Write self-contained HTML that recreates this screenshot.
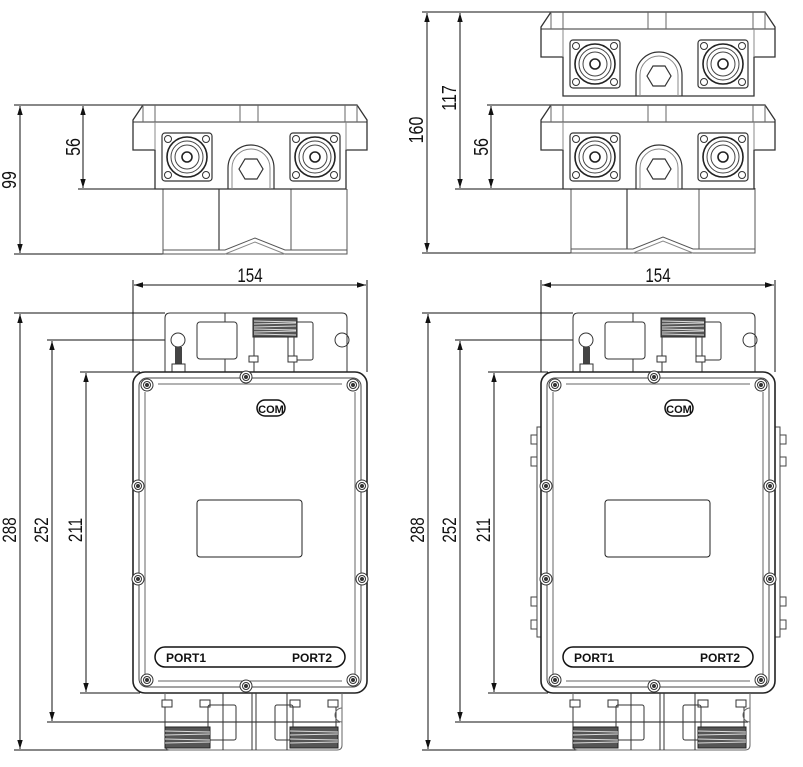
<!DOCTYPE html>
<html><head><meta charset="utf-8"><style>
html,body{margin:0;padding:0;background:#fff;}
svg{display:block;}
text{font-family:"Liberation Sans",sans-serif;fill:#111;}
</style></head><body>
<svg width="803" height="767" viewBox="0 0 803 767" xmlns="http://www.w3.org/2000/svg">
<defs>
<marker id="a" viewBox="0 0 10 10" refX="10" refY="5" markerWidth="9" markerHeight="9" orient="auto-start-reverse" markerUnits="userSpaceOnUse"><path d="M0,2 L10,5 L0,8 Z" fill="#111"/></marker>
<g id="conn">
  <rect x="-25" y="-24" width="50" height="48" rx="3" fill="none" stroke="#333" stroke-width="1.2"/>
  <circle r="20" fill="none" stroke="#222" stroke-width="1.6"/>
  <circle r="16" fill="none" stroke="#444"/>
  <circle r="12" fill="none" stroke="#444"/>
  <circle r="5" fill="none" stroke="#222" stroke-width="1.6"/>
  <circle cx="-19" cy="-18" r="3.5" fill="none" stroke="#333"/><circle cx="19" cy="-18" r="3.5" fill="none" stroke="#333"/>
  <circle cx="-19" cy="18" r="3.5" fill="none" stroke="#333"/><circle cx="19" cy="18" r="3.5" fill="none" stroke="#333"/>
</g>
<g id="unit" fill="none" stroke="#333" stroke-width="1">
  <path d="M143,105 L357,105 L367,120 L367,150 L346,150 L346,189 L155,189 L155,150 L133,150 L133,120 Z" fill="#fff" stroke-width="1.3"/>
  <line x1="133" y1="122" x2="367" y2="122"/>
  <line x1="155" y1="150" x2="155" y2="122" stroke="#888"/><line x1="346" y1="150" x2="346" y2="122" stroke="#888"/>
  <path d="M143,105 L143,122 M155,105 L155,122 M240,105 L240,122 M258,105 L258,122 M345,105 L345,122 M357,105 L357,122" stroke="#666"/>
  <use href="#conn" x="187" y="157"/>
  <use href="#conn" x="315" y="157"/>
  <path d="M228,189 L228,168 A23,23 0 0 1 274,168 L274,189" stroke-width="1.2"/>
  <path d="M232,189 L232,168 A19,19 0 0 1 270,168 L270,189" stroke="#888"/>
  <polygon points="239,169 245,159 257,159 263,169 257,179 245,179" stroke-width="1.2"/>
</g>
<g id="brk" fill="none" stroke="#555" stroke-width="1">
  <path d="M163,189 L163,254 L347,254 L347,189"/>
  <line x1="219" y1="189" x2="219" y2="250" stroke="#111"/>
  <line x1="291" y1="189" x2="291" y2="250"/>
  <path d="M163,250 L225,250 L255,238 L285,250 L347,250"/>
  <path d="M225,254 L255,242 L285,254" stroke="#888"/>
</g>
<g id="screw"><circle r="6" fill="#fff" stroke="#333"/><circle r="3.5" fill="none" stroke="#333"/><circle r="1.5" fill="#333"/></g>
<g id="front" fill="none" stroke="#333" stroke-width="1">
  <path d="M165,372 L165,318 Q165,313 170,313 L342,313 Q347,313 347,318 L347,372" fill="#fff"/>
  <circle cx="178" cy="340" r="7"/><circle cx="342" cy="340" r="7"/>
  <rect x="197" y="322" width="40" height="37" rx="3"/>
  <rect x="288" y="322" width="25" height="38" rx="2"/>
  <line x1="225" y1="313" x2="225" y2="322"/><line x1="225" y1="359" x2="225" y2="372"/>
  <rect x="253" y="318" width="44" height="19" fill="#555" stroke="#222"/>
  <path d="M254,321 L296,322 M254,324 L296,323 M254,327 L296,326 M254,329 L296,330 M254,332 L296,331 M254,334 L296,335" stroke="#ddd"/>
  <line x1="254" y1="337" x2="254" y2="372"/><line x1="294" y1="337" x2="294" y2="372"/>
  <rect x="249" y="356" width="9" height="6" fill="#fff"/><rect x="288" y="356" width="9" height="6" fill="#fff"/>
  <rect x="175" y="347" width="7" height="19" fill="#444" stroke="none"/>
  <rect x="172" y="364" width="13" height="8" fill="#fff"/>
  <rect x="133" y="372" width="234" height="321" rx="12" fill="#fff" stroke="#222" stroke-width="1.6"/>
  <rect x="139" y="378" width="222" height="309" rx="8" stroke="#444"/>
  <line x1="145" y1="392" x2="145" y2="675" stroke="#666"/><line x1="355" y1="392" x2="355" y2="675" stroke="#666"/>
  <line x1="158" y1="384" x2="342" y2="384" stroke="#666"/><line x1="158" y1="681" x2="342" y2="681" stroke="#666"/>
  <rect x="257" y="400" width="28" height="16" rx="8" stroke="#111" stroke-width="1.5"/>
  <rect x="197" y="500" width="105" height="57" rx="3" stroke="#222"/>
  <rect x="155" y="647" width="190" height="20" rx="10" stroke="#111" stroke-width="1.5"/>
  <use href="#screw" x="147" y="385"/><use href="#screw" x="353" y="385"/>
  <use href="#screw" x="147" y="680"/><use href="#screw" x="353" y="680"/>
  <use href="#screw" x="138" y="486"/><use href="#screw" x="362" y="486"/>
  <use href="#screw" x="138" y="579"/><use href="#screw" x="362" y="579"/>
  <use href="#screw" x="246" y="377"/><use href="#screw" x="246" y="686"/>
  <path d="M165,693 L165,745 Q165,750 170,750 L337,750 Q342,750 342,745 L342,693" stroke="#666"/>
  <rect x="162" y="700" width="10" height="7" fill="#fff"/><rect x="200" y="700" width="10" height="7" fill="#fff"/>
  <rect x="290" y="700" width="10" height="7" fill="#fff"/><rect x="328" y="700" width="10" height="7" fill="#fff"/>
  <line x1="165" y1="707" x2="165" y2="727"/><line x1="208" y1="707" x2="208" y2="727"/>
  <line x1="293" y1="707" x2="293" y2="727"/><line x1="336" y1="707" x2="336" y2="727"/>
  <rect x="208" y="705" width="28" height="35" rx="2"/>
  <rect x="275" y="705" width="18" height="35" rx="2"/>
  <line x1="223" y1="693" x2="223" y2="750"/><line x1="252" y1="693" x2="252" y2="750"/><line x1="256" y1="693" x2="256" y2="750"/><line x1="287" y1="693" x2="287" y2="750"/>
  <rect x="165" y="727" width="45" height="21" fill="#555" stroke="#222"/>
  <rect x="290" y="727" width="48" height="21" fill="#555" stroke="#222"/>
  <path d="M165,731 L210,732 M165,735 L210,734 M165,739 L210,740 M165,743 L210,742 M290,731 L338,732 M290,735 L338,734 M290,739 L338,740 M290,743 L338,742" stroke="#ddd"/>
  <path d="M342,708 A7,7 0 0 0 342,722" stroke="#666"/>
</g>
</defs>

<g stroke="#111" stroke-width="1" fill="none">
  <line x1="14" y1="105" x2="143" y2="105"/><line x1="14" y1="254" x2="163" y2="254"/>
  <line x1="78" y1="189" x2="155" y2="189"/>
  <line x1="20" y1="106" x2="20" y2="253" marker-start="url(#a)" marker-end="url(#a)"/>
  <line x1="83" y1="106" x2="83" y2="188" marker-start="url(#a)" marker-end="url(#a)"/>
  <line x1="422" y1="12" x2="551" y2="12"/><line x1="422" y1="253" x2="571" y2="253"/>
  <line x1="455" y1="189" x2="563" y2="189"/><line x1="487" y1="105" x2="563" y2="105"/>
  <line x1="427" y1="13" x2="427" y2="252" marker-start="url(#a)" marker-end="url(#a)"/>
  <line x1="460" y1="13" x2="460" y2="188" marker-start="url(#a)" marker-end="url(#a)"/>
  <line x1="491" y1="106" x2="491" y2="188" marker-start="url(#a)" marker-end="url(#a)"/>
</g>
<use href="#brk"/>
<use href="#unit"/>
<use href="#brk" x="408" y="-1"/>
<use href="#unit" x="408" y="-93"/>
<use href="#unit" x="408" y="0"/>
<g font-size="20" text-anchor="middle">
<text transform="translate(16,180) rotate(-90) scale(0.8,1)">99</text>
<text transform="translate(80,147) rotate(-90) scale(0.8,1)">56</text>
<text transform="translate(423,130) rotate(-90) scale(0.8,1)">160</text>
<text transform="translate(456,98) rotate(-90) scale(0.8,1)">117</text>
<text transform="translate(488,147) rotate(-90) scale(0.8,1)">56</text>
</g>

<g id="fdims" stroke="#111" stroke-width="1" fill="none">
  <line x1="133" y1="280" x2="133" y2="372"/><line x1="367" y1="280" x2="367" y2="372"/>
  <line x1="134" y1="285" x2="366" y2="285" marker-start="url(#a)" marker-end="url(#a)"/>
  <line x1="14" y1="313" x2="165" y2="313"/><line x1="47" y1="340" x2="172" y2="340"/>
  <line x1="80" y1="372" x2="140" y2="372"/><line x1="80" y1="693" x2="140" y2="693"/>
  <line x1="47" y1="722" x2="340" y2="722"/><line x1="14" y1="750" x2="300" y2="750"/>
  <line x1="20" y1="314" x2="20" y2="749" marker-start="url(#a)" marker-end="url(#a)"/>
  <line x1="52" y1="341" x2="52" y2="721" marker-start="url(#a)" marker-end="url(#a)"/>
  <line x1="86" y1="373" x2="86" y2="692" marker-start="url(#a)" marker-end="url(#a)"/>
</g>
<use href="#fdims" x="408"/>
<use href="#front"/>
<g fill="#fff" stroke="#444">
  <rect x="537" y="427" width="5" height="210"/><rect x="531" y="435" width="6" height="9"/><rect x="531" y="457" width="6" height="9"/><rect x="531" y="597" width="6" height="9"/><rect x="531" y="620" width="6" height="9"/>
  <rect x="775" y="427" width="5" height="210"/><rect x="780" y="435" width="6" height="9"/><rect x="780" y="457" width="6" height="9"/><rect x="780" y="597" width="6" height="9"/><rect x="780" y="620" width="6" height="9"/>
</g>
<use href="#front" x="408"/>

<g font-size="19" text-anchor="middle">
  <text transform="translate(250,282) scale(0.8,1)">154</text><text transform="translate(658,282) scale(0.8,1)">154</text>
  <text transform="translate(16,530) rotate(-90) scale(0.8,1)">288</text>
  <text transform="translate(48,530) rotate(-90) scale(0.8,1)">252</text>
  <text transform="translate(82,530) rotate(-90) scale(0.8,1)">211</text>
  <text transform="translate(424,530) rotate(-90) scale(0.8,1)">288</text>
  <text transform="translate(456,530) rotate(-90) scale(0.8,1)">252</text>
  <text transform="translate(490,530) rotate(-90) scale(0.8,1)">211</text>
</g>
<g font-size="12" font-weight="bold">
  <text x="271" y="413" text-anchor="middle" font-size="11">COM</text>
  <text x="679" y="413" text-anchor="middle" font-size="11">COM</text>
  <text x="166" y="662">PORT1</text><text x="292" y="662">PORT2</text>
  <text x="574" y="662">PORT1</text><text x="700" y="662">PORT2</text>
</g>
</svg>
</body></html>
